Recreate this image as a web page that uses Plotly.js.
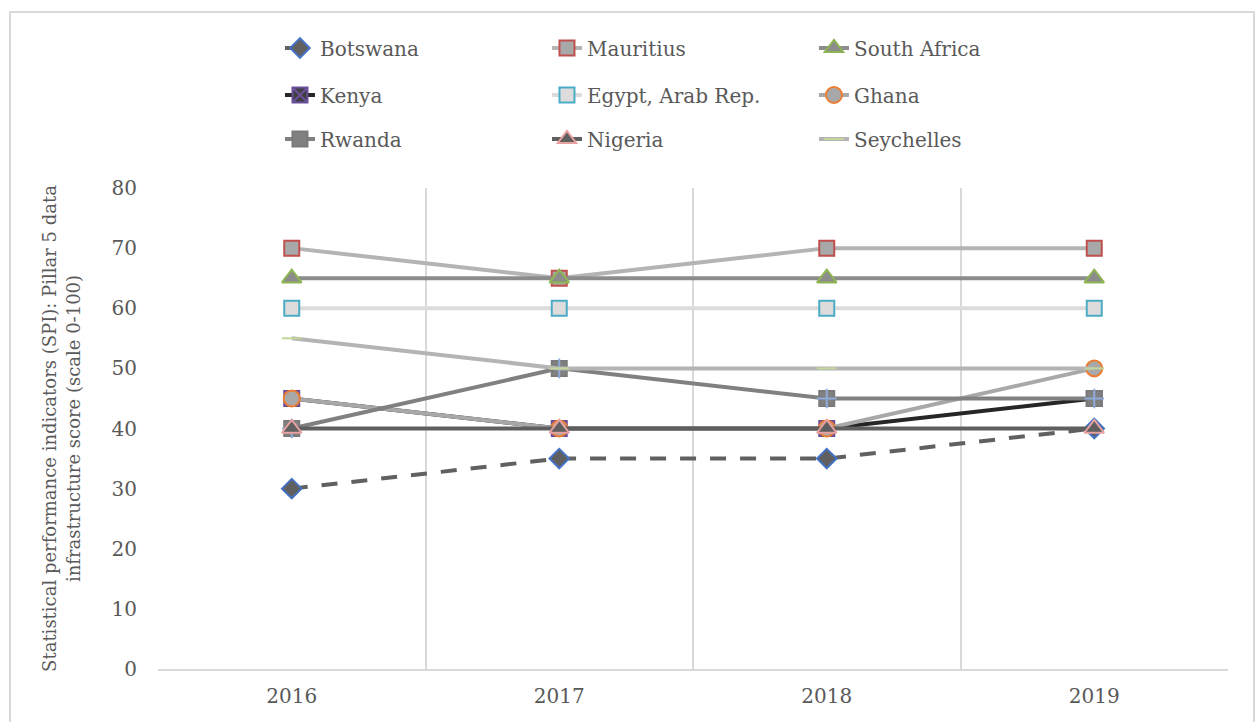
<!DOCTYPE html>
<html>
<head>
<meta charset="utf-8">
<script src="https://cdn.plot.ly/plotly-3.0.1.min.js"></script>
<style>
html,body{margin:0;padding:0;background:#fff;}
#frame{position:absolute;left:9px;top:11px;width:1246px;height:720px;border:2px solid #d9d9d9;box-sizing:border-box;}
#chart{position:absolute;left:0;top:0;width:1257px;height:722px;}
</style>
</head>
<body>
<div id="frame"></div>
<div id="chart"></div>
<script>
const years = ["2016", "2017", "2018", "2019"];
const botswana = [30, 35, 35, 40];
const mauritius = [70, 65, 70, 70];
const southAfrica = [65, 65, 65, 65];
const kenya = [45, 40, 40, 45];
const egypt = [60, 60, 60, 60];
const ghana = [45, 40, 40, 50];
const rwanda = [40, 50, 45, 45];
const nigeria = [40, 40, 40, 40];
const seychelles = [55, 50, 50, 50];
const yTicks = [0, 10, 20, 30, 40, 50, 60, 70, 80];

function tr(name, y, lineColor, dash, symbol, fill, edge, size, legend) {
  return {
    type: 'scatter', mode: 'lines+markers', name: name, x: years, y: y,
    legend: legend,
    line: {color: lineColor, width: 4, dash: dash || 'solid'},
    marker: {symbol: symbol, size: size, color: fill, line: {color: edge, width: 2}}
  };
}

const rwandaCross = {
  type: 'scatter', mode: 'markers', x: years, y: rwanda, showlegend: false, legend: 'legend3',
  marker: {symbol: 'cross-thin', size: 14, line: {color: '#8eaadb', width: 2}}
};

const data = [
  tr('Botswana', botswana, '#606060', '16px,14px', 'diamond', '#606060', '#4472c4', 15, 'legend'),
  tr('Mauritius', mauritius, '#b4b4b4', null, 'square', '#a8a8a8', '#c0504d', 15, 'legend'),
  tr('South Africa', southAfrica, '#8c8c8c', null, 'triangle-up', '#8c8c8c', '#8eb453', 17, 'legend'),
  tr('Kenya', kenya, '#262626', null, 'square-x', '#404040', '#6b4f9a', 15, 'legend2'),
  tr('Egypt, Arab Rep.', egypt, '#dcdcdc', null, 'square', '#dcdcdc', '#4bacc6', 15, 'legend2'),
  tr('Ghana', ghana, '#a8a8a8', null, 'circle', '#a8a8a8', '#ed7d31', 16, 'legend2'),
  tr('Rwanda', rwanda, '#808080', null, 'square', '#808080', '#7a7a7a', 15, 'legend3'),
  rwandaCross,
  tr('Nigeria', nigeria, '#5f5f5f', null, 'triangle-up', '#5f5f5f', '#e6a1a0', 17, 'legend3'),
  tr('Seychelles', seychelles, '#b4b4b4', null, 'line-ew', '#c3d69b', '#c3d69b', 14, 'legend3')
];

const legFont = {family: 'DejaVu Serif', size: 20, color: '#595959'};
function leg(y) {
  return {orientation: 'h', x: 0.114, xanchor: 'left', y: y, yanchor: 'middle',
          xref: 'paper', yref: 'container', entrywidth: 222, entrywidthmode: 'pixels',
          font: legFont, bgcolor: 'rgba(0,0,0,0)', itemclick: false};
}

const layout = {
  width: 1257, height: 722,
  margin: {l: 158, r: 29, t: 188, b: 53},
  paper_bgcolor: 'rgba(0,0,0,0)', plot_bgcolor: 'rgba(0,0,0,0)',
  showlegend: true,
  legend: leg(1 - 48/722),
  legend2: leg(1 - 95/722),
  legend3: leg(1 - 139/722),
  xaxis: {
    type: 'category', tickson: 'boundaries', showgrid: true, gridcolor: '#d9d9d9', gridwidth: 2,
    showline: true, linecolor: '#d9d9d9', linewidth: 2, ticks: '', zeroline: false,
    range: [-0.5, 3.5], ticklabelstandoff: 8,
    tickfont: {family: 'DejaVu Serif', size: 20, color: '#595959'}
  },
  yaxis: {
    range: [0, 80], tickvals: yTicks, ticktext: yTicks.map(String), showgrid: false, zeroline: false,
    showline: false, ticks: '', ticklabelstandoff: 20,
    tickfont: {family: 'DejaVu Serif', size: 20, color: '#595959'},
    title: {text: 'Statistical performance indicators (SPI): Pillar 5 data<br>infrastructure score (scale 0-100)',
            font: {family: 'DejaVu Serif', size: 18, color: '#595959'}, standoff: 26}
  }
};

Plotly.newPlot('chart', data, layout, {displayModeBar: false, staticPlot: true});
</script>
</body>
</html>
